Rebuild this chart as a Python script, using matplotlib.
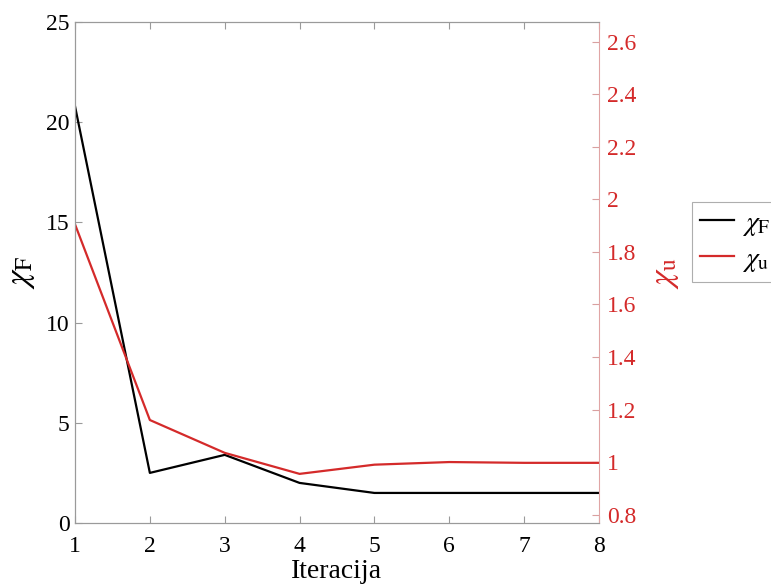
import numpy as np
import matplotlib.pyplot as plt

# data
iteracija = [1, 2, 3, 4, 5, 6, 7, 8]
chi_F = [20.8, 2.5, 3.4, 2.0, 1.5, 1.5, 1.5, 1.5]
chi_u = [1.905, 1.16, 1.035, 0.955, 0.99, 1.0, 0.997, 0.997]

red = '#d42a2a'
gray = '#9a9a9a'

plt.rcParams['font.family'] = ['Liberation Serif', 'DejaVu Serif']
plt.rcParams['mathtext.fontset'] = 'stix'

fig = plt.figure(figsize=(7.71, 5.86), dpi=100)
ax = fig.add_axes([75/771, 1-523/586, (599-75)/771, (523-22)/586])
ax2 = ax.twinx()

l1, = ax.plot(iteracija, chi_F, color='black', lw=1.6, label=r'$\chi_{\mathrm{F}}$')
l2, = ax2.plot(iteracija, chi_u, color=red, lw=1.6, label=r'$\chi_{\mathrm{u}}$')

ax.set_xlim(1, 8)
ax.set_ylim(0, 25)
ax.set_yticks([0, 5, 10, 15, 20, 25])
ax.set_xticks(iteracija)
ax2.set_ylim(0.768, 2.675)
ax2.set_yticks([0.8, 1.0, 1.2, 1.4, 1.6, 1.8, 2.0, 2.2, 2.4, 2.6])
ax2.set_yticklabels(['0.8', '1', '1.2', '1.4', '1.6', '1.8', '2', '2.2', '2.4', '2.6'])

ax.tick_params(axis='both', direction='in', labelsize=17, color=gray, length=5, top=True)
ax.tick_params(axis='x', pad=9)
ax.tick_params(axis='y', pad=4)
ax2.tick_params(axis='y', direction='in', labelsize=17, colors=red, length=5, pad=6)
ax2.tick_params(axis='y', color='#d9a0a0')

for s in ['left', 'bottom', 'top']:
    ax.spines[s].set_color(gray)
    ax2.spines[s].set_color(gray)
ax.spines['right'].set_visible(False)
ax2.spines['right'].set_color('#e0a5a5')

ax.set_xlabel('Iteracija', fontsize=20, labelpad=2)
ax.set_ylabel(r'$\chi_{\mathrm{F}}$', fontsize=24, labelpad=6)
ax2.set_ylabel(r'$\chi_{\mathrm{u}}$', fontsize=24, color=red, labelpad=10, rotation=90)

leg = fig.legend(handles=[l1, l2], loc='upper left', bbox_to_anchor=(692/771, 1-202/586),
                 fontsize=20, frameon=True, fancybox=False, edgecolor=gray,
                 handlelength=1.2, handletextpad=0.3, borderpad=0.3, labelspacing=0.3,
                 borderaxespad=0)
leg.get_frame().set_linewidth(0.8)

plt.savefig('out.png', dpi=100)
